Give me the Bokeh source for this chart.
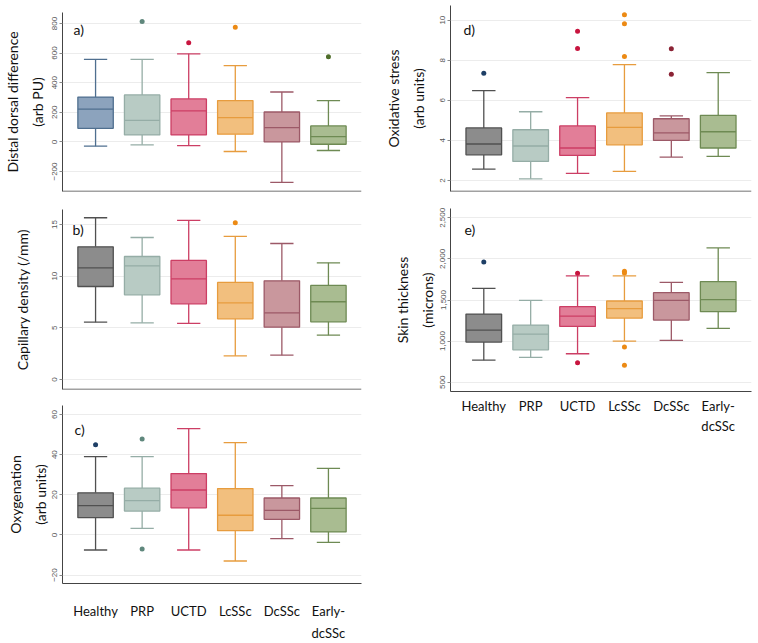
import math
from bokeh.plotting import figure
from bokeh.models import FactorRange, Range1d, ColumnDataSource, Label, FixedTicker, NumeralTickFormatter, Span
from bokeh.transform import dodge, factor_cmap
from bokeh.layouts import row, column
from bokeh.embed import file_html
from bokeh.resources import INLINE

categories = ["Healthy", "PRP", "UCTD", "LcSSc", "DcSSc", "Early-\ndcSSc"]

# a) Distal dorsal difference (arb PU)
a_low = [-29, -20, -25, -65, -274, -58]
a_q1 = [92, 47, 47, 52, 0, -16]
a_med = [222, 146, 209, 164, 97, 36]
a_q3 = [303, 317, 290, 279, 202, 108]
a_high = [557, 557, 595, 515, 337, 279]
a_out_cat = ["PRP", "UCTD", "LcSSc", "Early-\ndcSSc"]
a_out_val = [813, 670, 775, 575]

# b) Capillary density (/mm)
b_low = [5.55, 5.48, 5.42, 2.29, 2.35, 4.29]
b_q1 = [9.0, 8.19, 7.32, 5.87, 5.06, 5.58]
b_med = [10.81, 11.0, 9.74, 7.42, 6.45, 7.52]
b_q3 = [12.84, 11.9, 11.52, 9.39, 9.55, 9.1]
b_high = [15.65, 13.74, 15.39, 13.84, 13.16, 11.29]
b_out_cat = ["LcSSc"]
b_out_val = [15.16]

# c) Oxygenation (arb units)
c_low = [-7.5, 3.3, -7.5, -13.0, -1.8, -3.7]
c_q1 = [8.6, 11.9, 13.5, 2.1, 7.8, 1.5]
c_med = [14.6, 17.1, 22.4, 9.8, 12.2, 13.2]
c_q3 = [21.0, 23.3, 30.6, 23.1, 18.4, 18.4]
c_high = [39.0, 39.0, 53.0, 46.0, 24.6, 33.2]
c_out_cat = ["Healthy", "PRP", "PRP"]
c_out_val = [44.9, 47.8, -7.0]

# d) Oxidative stress (arb units)
d_low = [2.57, 2.08, 2.35, 2.45, 3.17, 3.2]
d_q1 = [3.28, 2.95, 3.25, 3.78, 4.0, 3.62]
d_med = [3.82, 3.72, 3.62, 4.65, 4.37, 4.43]
d_q3 = [4.62, 4.53, 4.72, 5.37, 5.08, 5.25]
d_high = [6.48, 5.43, 6.13, 7.78, 5.22, 7.38]
d_out_cat = ["Healthy", "UCTD", "UCTD", "LcSSc", "LcSSc", "LcSSc", "DcSSc", "DcSSc"]
d_out_val = [7.35, 9.45, 8.58, 10.27, 9.82, 8.18, 8.57, 7.3]

# e) Skin thickness (microns)
e_low = [768, 801, 846, 1000, 1008, 1154]
e_q1 = [988, 894, 1179, 1280, 1256, 1358]
e_med = [1134, 1085, 1305, 1394, 1496, 1504]
e_q3 = [1329, 1195, 1419, 1488, 1589, 1724]
e_high = [1642, 1496, 1793, 1793, 1715, 2134]
e_out_cat = ["Healthy", "UCTD", "UCTD", "LcSSc", "LcSSc", "LcSSc", "LcSSc"]
e_out_val = [1963, 1825, 736, 1850, 1829, 927, 707]

# styles
fill_colors = ["#8c8c8c", "#b8cbc4", "#e27e98", "#f2bf7e", "#c9979d", "#a9bc91"]
line_colors = ["#505050", "#95ada6", "#cc3e64", "#e79c3e", "#9c5967", "#6e8a53"]
out_colors = ["#1e3f66", "#5f877c", "#c8153f", "#ec8a14", "#8b2335", "#4f6e2b"]
healthy_a_fill = "#8ca3bd"
healthy_a_line = "#4f6f8f"

TITLE_FONT = "Lato"
TICK_FONT = "Liberation Sans"


def panel(width, height, bl, br, bt, bb, yr, ticks, title, title_standoff, letter, letter_xy,
          low, q1, med, q3, high, out_cat, out_val, xlab_standoff, fills, lines, fmt=None,
          xlab_lh=1.4):
    p = figure(width=width, height=height,
               x_range=FactorRange(factors=categories, range_padding=0.07),
               y_range=Range1d(*yr), output_backend="svg", toolbar_location=None,
               min_border_left=bl, min_border_right=br, min_border_top=bt, min_border_bottom=bb)
    p.outline_line_color = None
    p.xgrid.grid_line_color = None
    p.ygrid.grid_line_color = "#ececec"
    p.ygrid.grid_line_width = 1
    src = ColumnDataSource(dict(cat=categories, low=low, q1=q1, med=med, q3=q3, high=high,
                                fill=fills, line=lines))
    # whiskers
    p.segment(x0="cat", x1="cat", y0="q3", y1="high", source=src, line_color="line", line_width=1.3)
    p.segment(x0="cat", x1="cat", y0="q1", y1="low", source=src, line_color="line", line_width=1.3)
    # caps
    for col in ("high", "low"):
        p.segment(x0=dodge("cat", -0.25, range=p.x_range), x1=dodge("cat", 0.25, range=p.x_range),
                  y0=col, y1=col, source=src, line_color="line", line_width=1.3)
    # boxes
    p.vbar(x="cat", width=0.76, bottom="q1", top="q3", source=src, fill_color="fill",
           line_color="line", line_width=1.3)
    # medians
    p.segment(x0=dodge("cat", -0.38, range=p.x_range), x1=dodge("cat", 0.38, range=p.x_range),
              y0="med", y1="med", source=src, line_color="line", line_width=1.3)
    # outliers
    osrc = ColumnDataSource(dict(cat=out_cat, val=out_val))
    p.scatter(x="cat", y="val", source=osrc, size=5, line_color=None,
              fill_color=factor_cmap("cat", palette=out_colors, factors=categories))

    # y axis
    ya = p.yaxis[0]
    ya.ticker = FixedTicker(ticks=ticks)
    ya.minor_tick_line_color = None
    ya.major_tick_out = 3
    ya.major_tick_in = 0
    ya.major_tick_line_color = "#888888"
    ya.axis_line_color = "#444444"
    ya.major_label_orientation = "vertical"
    ya.major_label_text_font = TICK_FONT
    ya.major_label_text_font_size = "8px"
    ya.major_label_text_color = "#555555"
    ya.major_label_standoff = 2
    ya.axis_label = title
    ya.axis_label_text_font = TITLE_FONT
    ya.axis_label_text_font_size = "14px"
    ya.axis_label_text_font_style = "normal"
    ya.axis_label_text_color = "#111111"
    ya.axis_label_text_line_height = 1.45
    ya.axis_label_standoff = title_standoff
    if fmt:
        ya.formatter = NumeralTickFormatter(format=fmt)
    # x axis
    xa = p.xaxis[0]
    if xlab_standoff is not None:
        xa.axis_line_color = "#444444"
        xa.major_tick_line_color = None
        xa.major_tick_out = 0
        xa.major_tick_in = 0
        xa.minor_tick_line_color = None
        xa.major_label_text_font = TITLE_FONT
        xa.major_label_text_font_size = "13px"
        xa.major_label_text_color = "#111111"
        xa.major_label_text_line_height = xlab_lh
        xa.major_label_standoff = xlab_standoff
    else:
        xa.visible = False
        p.add_layout(Span(location=yr[0], dimension="width", line_color="#444444", line_width=1.5))

    p.add_layout(Label(x=letter_xy[0], y=letter_xy[1], x_units="screen", y_units="screen",
                       text=letter, text_align="left", text_baseline="middle",
                       text_font=TITLE_FONT, text_font_size="14px", text_color="#111111"))
    return p


fa = fill_colors.copy(); fa[0] = healthy_a_fill
la = line_colors.copy(); la[0] = healthy_a_line

pa = panel(380, 200, 60, 19, 12, 9, (-335, 874), [-200, 0, 200, 400, 600, 800],
           "Distal dorsal difference\n(arb PU)", 4, "a)", (11, 162),
           a_low, a_q1, a_med, a_q3, a_high, a_out_cat, a_out_val, None, fa, la)
pb = panel(380, 197, 60, 19, 9, 8, (-0.97, 16.45), [0, 5, 10, 15],
           "Capillary density (/mm)", 19, "b)", (10, 160),
           b_low, b_q1, b_med, b_q3, b_high, b_out_cat, b_out_val, None, fill_colors, line_colors)
pc = panel(380, 246, 60, 19, 8, 56, (-24.2, 64.5), [-20, 0, 20, 40, 60],
           "Oxygenation\n(arb units)", 1, "c)", (12, 154),
           c_low, c_q1, c_med, c_q3, c_high, c_out_cat, c_out_val, 19, fill_colors, line_colors)
pd_ = panel(378, 199, 70, 7, 5, 8, (1.45, 10.73), [2, 4, 6, 8, 10],
            "Oxidative stress\n(arb units)", 11, "d)", (13, 162),
            d_low, d_q1, d_med, d_q3, d_high, d_out_cat, d_out_val, None, fill_colors, line_colors)
pe = panel(378, 241, 70, 7, 9, 49, (387, 2613), [500, 1000, 1500, 2000, 2500],
           "Skin thickness\n(microns)", 2, "e)", (14, 162),
           e_low, e_q1, e_med, e_q3, e_high, e_out_cat, e_out_val, 6, fill_colors, line_colors,
           fmt="0,0", xlab_lh=1.3)

layout = row(column(pa, pb, pc), column(pd_, pe))
open("out.html", "w").write(file_html(layout, INLINE))
